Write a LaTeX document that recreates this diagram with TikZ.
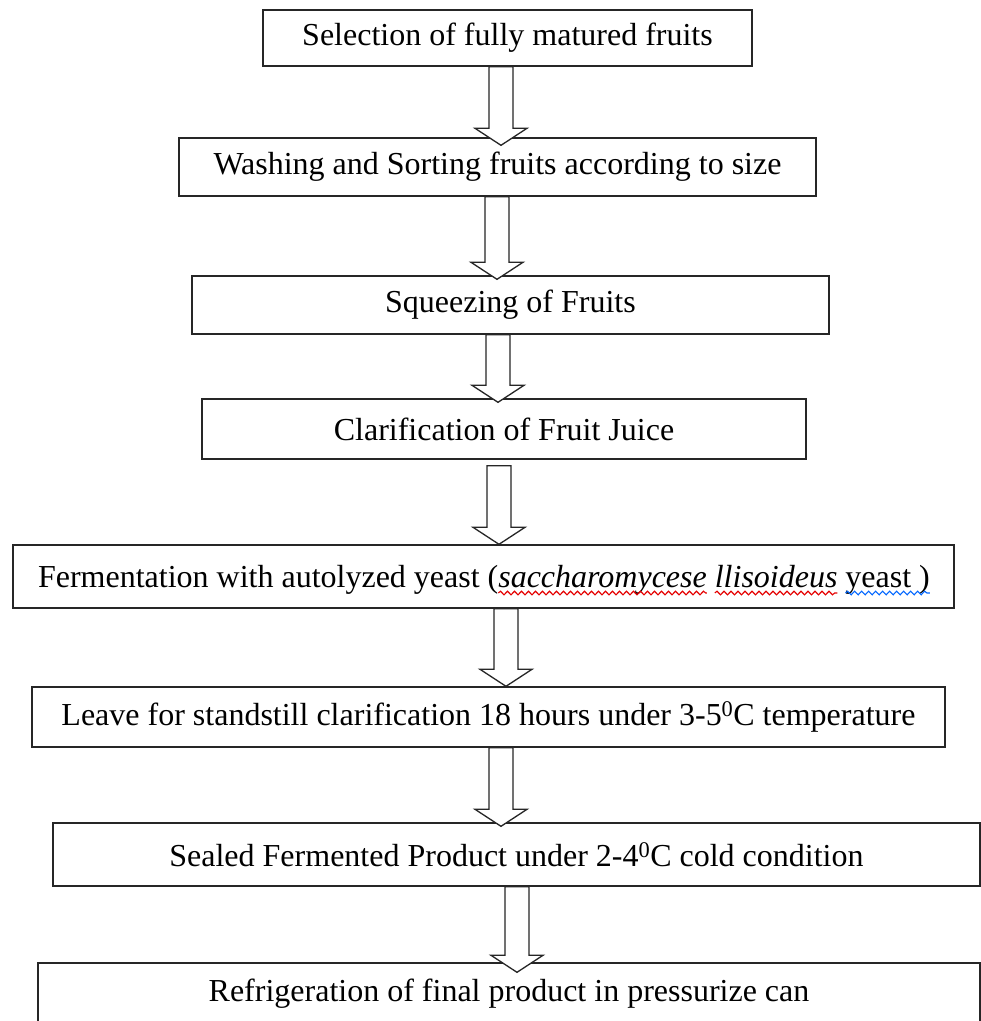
\documentclass[tikz,border=0pt]{standalone}
\usepackage{fontspec}
\setmainfont{Liberation Serif}
\usetikzlibrary{calc,decorations.pathmorphing}

\tikzset{
  stepbox/.style={draw=black!85, line width=1.4pt, fill=white, inner sep=0pt,
    font=\fontsize{32}{38}\selectfont},
  steptext/.style={inner sep=0pt, outer sep=0pt, font=\fontsize{32}{38}\selectfont},
  hollow/.style={draw=black!85, line width=1.3pt, fill=white, line join=miter},
  spell/.style={draw=red!90!black, line width=1.1pt, decorate,
    decoration={snake, amplitude=1.8pt, segment length=7pt}},
  grammar/.style={spell, draw=blue!60!cyan}
}

% hollow block arrow: #1 x centre, #2 upper box, #3 lower box,
% #4 gap below the upper box, #5 how far the tip reaches into the lower box
\newcommand\flowarrow[5]{%
  \draw[hollow] let \p1=(#2.south), \p2=(#3.north) in
    (#1pt-12pt,\y1-#4pt) -- (#1pt-12pt,\y2-#5pt+17pt) -- (#1pt-26pt,\y2-#5pt+17pt)
    -- (#1pt,\y2-#5pt) -- (#1pt+26pt,\y2-#5pt+17pt) -- (#1pt+12pt,\y2-#5pt+17pt)
    -- (#1pt+12pt,\y1-#4pt) -- cycle;}

\begin{document}
\begin{tikzpicture}[x=1pt,y=-1pt]
\clip (0,0) rectangle (981,1021);
\fill[white] (0,0) rectangle (981,1021);

\node[stepbox, minimum width=489pt, minimum height=56pt] (b1) at (507.5,38)
  {Selection of fully matured fruits};
\node[stepbox, minimum width=637pt, minimum height=58pt] (b2) at (497.5,167)
  {Washing and Sorting fruits according to size};
\node[stepbox, minimum width=637pt, minimum height=58pt] (b3) at (510.5,305)
  {Squeezing of Fruits};
\node[stepbox, minimum width=604pt, minimum height=60pt] (b4) at (504,429)
  {Clarification of Fruit Juice};
\node[stepbox, minimum width=941pt, minimum height=63pt] (b5) at (483.5,576.5) {};
\node[stepbox, minimum width=913pt, minimum height=60pt] (b6) at (488.5,717)
  {Leave for standstill clarification 18 hours under 3-5\textsuperscript{0}C temperature};
\node[stepbox, minimum width=927pt, minimum height=63pt] (b7) at (516.5,854.5)
  {Sealed Fermented Product under 2-4\textsuperscript{0}C cold condition};
\node[stepbox, minimum width=942pt, minimum height=62pt] (b8) at (509,994)
  {Refrigeration of final product in pressurize can};

% text of the fermentation step, set word by word for the underlines
\node[steptext, anchor=base west] (f1) at (38,587) {Fermentation with autolyzed yeast (};
\node[steptext, anchor=base west] (f2) at (f1.base east) {\itshape saccharomycese};
\node[steptext, anchor=base west] (f3) at ([xshift=8pt]f2.base east) {\itshape llisoideus};
\node[steptext, anchor=base west] (f4) at ([xshift=8pt]f3.base east) {yeast};
\node[steptext, anchor=base west] (f5) at ([xshift=8pt]f4.base east) {)};
\draw[spell] ([yshift=-6pt]f2.base west) -- ([yshift=-6pt]f2.base east);
\draw[spell] ([yshift=-6pt]f3.base west) -- ([yshift=-6pt]f3.base east);
\draw[grammar] ([yshift=-6pt]f4.base west) -- ([yshift=-6pt]f5.base east);

\flowarrow{501}{b1}{b2}{0}{8}
\flowarrow{497}{b2}{b3}{0}{4}
\flowarrow{498}{b3}{b4}{0}{4}
\flowarrow{499}{b4}{b5}{6}{0}
\flowarrow{506}{b5}{b6}{0}{0}
\flowarrow{501}{b6}{b7}{0}{4}
\flowarrow{517}{b7}{b8}{0}{10}
\end{tikzpicture}
\end{document}
